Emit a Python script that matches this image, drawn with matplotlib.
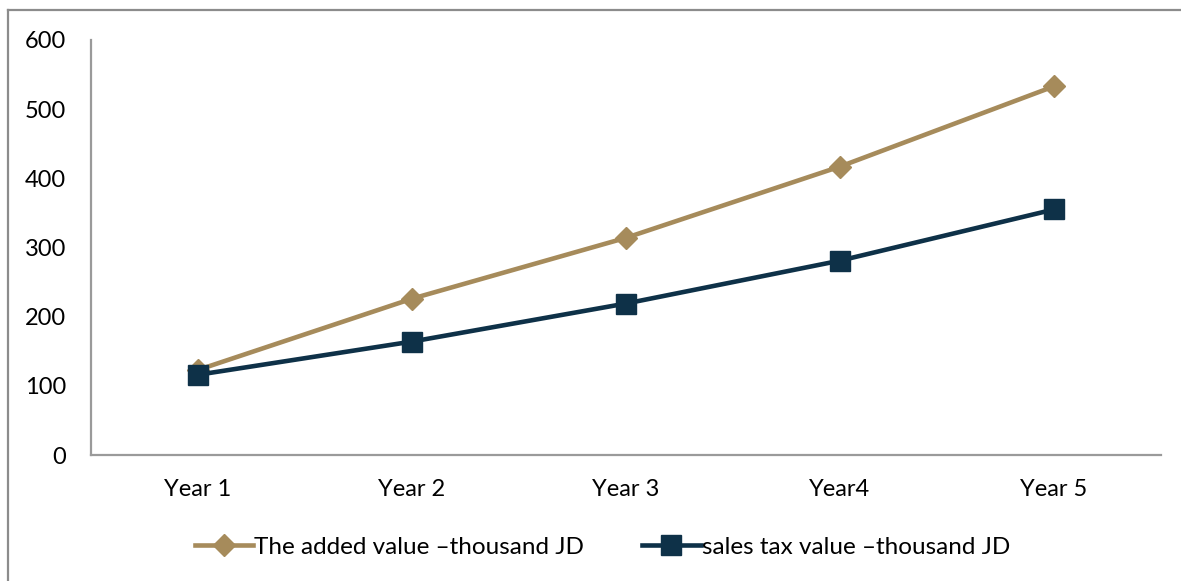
import matplotlib
matplotlib.use("Agg")
import matplotlib.pyplot as plt
from matplotlib.lines import Line2D

# data
years = ["Year 1", "Year 2", "Year 3", "Year4", "Year 5"]
added_value = [123, 226, 314, 417, 533]
sales_tax = [116, 164, 219, 281, 355]
y_ticks = [0, 100, 200, 300, 400, 500, 600]

GOLD = "#A68B5B"
NAVY = "#0E3148"

plt.rcParams["font.family"] = ["Lato", "DejaVu Sans"]

fig = plt.figure(figsize=(11.81, 5.81), dpi=100)
ax = fig.add_axes([91 / 1181, 1 - 455 / 581, 1070 / 1181, 415 / 581])

x = list(range(len(years)))
ax.plot(x, added_value, color=GOLD, lw=3.3, marker="D", ms=11,
        label="The added value \u2013thousand JD")
ax.plot(x, sales_tax, color=NAVY, lw=3.3, marker="s", ms=14,
        label="sales tax value \u2013thousand JD")

ax.set_xlim(-0.5, 4.5)
ax.set_ylim(0, 600)
ax.set_xticks(x)
ax.set_xticklabels(years)
ax.set_yticks(y_ticks)
ax.tick_params(axis="both", length=0, labelsize=17, colors="black")
ax.tick_params(axis="y", pad=18)
ax.tick_params(axis="x", pad=17)

for side in ["top", "right"]:
    ax.spines[side].set_visible(False)
for side in ["left", "bottom"]:
    ax.spines[side].set_color("#9a9a9a")
    ax.spines[side].set_linewidth(1.6)

fig.legend(loc="center", bbox_to_anchor=(0.51, 1 - 547 / 581), ncol=2,
           frameon=False, fontsize=17.5, handlelength=2.4, handletextpad=0.05,
           columnspacing=2.4)

# outer frame (left and top edges of the embedding box)
fig.add_artist(Line2D([8 / 1181, 8 / 1181], [0, 1 - 10 / 581],
                      transform=fig.transFigure, color="#8c8c8c", lw=1.6))
fig.add_artist(Line2D([8 / 1181, 1], [1 - 10 / 581, 1 - 10 / 581],
                      transform=fig.transFigure, color="#8c8c8c", lw=1.6))

fig.savefig("out.png", dpi=100)
